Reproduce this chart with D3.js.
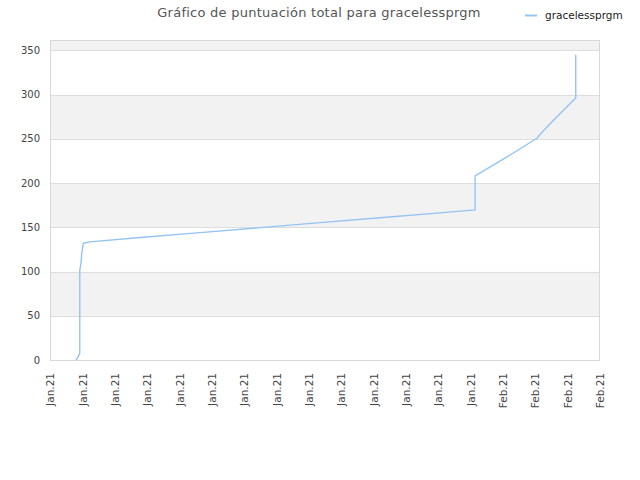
<!DOCTYPE html>
<html>
<head>
<meta charset="utf-8">
<script src="https://cdn.jsdelivr.net/npm/d3@7"></script>
<style>
html,body{margin:0;padding:0;background:#fff;}
text{font-family:"DejaVu Sans",sans-serif;}
</style>
</head>
<body>
<svg id="chart" width="640" height="480"></svg>
<script>
const title = "Gráfico de puntuación total para gracelessprgm";
const seriesName = "gracelessprgm";
const xTickLabels = ["Jan.21","Jan.21","Jan.21","Jan.21","Jan.21","Jan.21","Jan.21","Jan.21","Jan.21",
  "Jan.21","Jan.21","Jan.21","Jan.21","Jan.21","Feb.21","Feb.21","Feb.21","Feb.21"];
const yTicks = [0,50,100,150,200,250,300,350];
// x position measured in tick-interval units
const timePos = [0.80,0.86,0.92,0.92,0.96,0.98,1.03,1.24,2.78,4.64,6.50,8.35,10.20,12.05,13.14,13.14,14.10,15.05,15.25,15.70,16.25,16.25];
const scores  = [0,   3,   7.5, 101, 110, 120, 132, 133.5,138.4,144.0,149.6,155.2,160.7,166.3,169.6,208, 229, 250.6,259,  276,  296,  345];

const svg = d3.select("#chart");
const mLeft = 50, mRight = 600, mTop = 40, mBottom = 360;
const x = d3.scaleLinear().domain([0, xTickLabels.length - 1]).range([mLeft, mRight]);
const y = d3.scaleLinear().domain([0, 350]).range([mBottom, 50.3]);
const yMax = y.invert(mTop);

// background bands
const bandEdges = yTicks.concat([yMax]);
for (let i = 0; i < bandEdges.length - 1; i++) {
  svg.append("rect")
    .attr("x", mLeft).attr("width", mRight - mLeft)
    .attr("y", y(bandEdges[i + 1])).attr("height", y(bandEdges[i]) - y(bandEdges[i + 1]))
    .attr("fill", i % 2 === 1 ? "#f2f2f2" : "#ffffff");
}
// grid lines
svg.append("g").selectAll("line").data(yTicks.slice(1)).join("line")
  .attr("x1", mLeft).attr("x2", mRight)
  .attr("y1", d => Math.round(y(d)) + 0.5).attr("y2", d => Math.round(y(d)) + 0.5)
  .attr("stroke", "#dddddd").attr("stroke-width", 1);
// frame
svg.append("rect").attr("x", mLeft + 0.5).attr("y", mTop + 0.5)
  .attr("width", mRight - mLeft - 1).attr("height", mBottom - mTop)
  .attr("fill", "none").attr("stroke", "#d8d8d8");

// y axis labels
const yAxis = d3.axisLeft(y).tickValues(yTicks).tickSize(0).tickPadding(10);
const gy = svg.append("g").attr("transform", `translate(${mLeft},0)`).call(yAxis);
gy.select(".domain").remove();
gy.selectAll("text").attr("fill", "#444").style("font-size", "10px").style("font-family", "DejaVu Sans");

// x axis labels
const xAxis = d3.axisBottom(x).tickValues(d3.range(xTickLabels.length))
  .tickFormat(i => xTickLabels[i]).tickSize(0);
const gx = svg.append("g").attr("transform", `translate(0,${mBottom})`).call(xAxis);
gx.select(".domain").remove();
gx.selectAll("text")
  .attr("fill", "#444").style("font-size", "10.5px").style("font-family", "DejaVu Sans")
  .attr("text-anchor", "end")
  .attr("transform", "rotate(-90)")
  .attr("x", -13).attr("y", 0).attr("dy", "0.35em");

// line
const data = timePos.map((t, i) => ({t, s: scores[i]}));
svg.append("path").datum(data)
  .attr("fill", "none").attr("stroke", "#94c4f4").attr("stroke-width", 1.4)
  .attr("d", d3.line().x(d => x(d.t)).y(d => y(d.s)));

// title
svg.append("text").attr("x", 319).attr("y", 17).attr("text-anchor", "middle")
  .attr("fill", "#555").style("font-size", "13px").style("letter-spacing", "0.25px").text(title);

// legend
svg.append("line").attr("x1", 525).attr("x2", 537).attr("y1", 15.5).attr("y2", 15.5)
  .attr("stroke", "#94c4f4").attr("stroke-width", 2);
svg.append("text").attr("x", 545).attr("y", 19).attr("fill", "#222")
  .style("font-size", "10.5px").text(seriesName);
</script>
</body>
</html>
